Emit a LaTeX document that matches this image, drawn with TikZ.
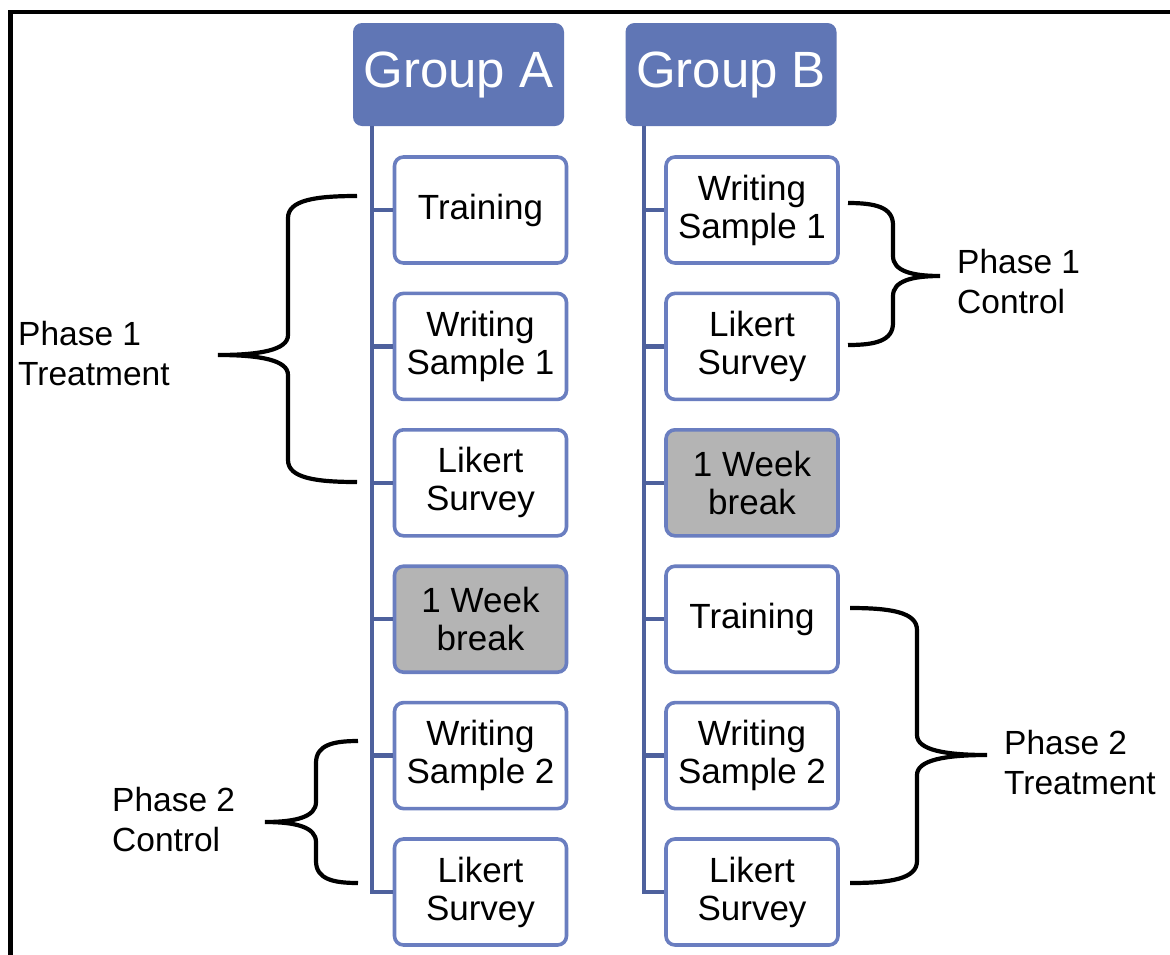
\documentclass[tikz,border=0pt]{standalone}
\usepackage{fontspec}
\setmainfont{Liberation Sans}
\definecolor{hdrblue}{RGB}{96,118,181}
\definecolor{boxblue}{RGB}{106,126,192}
\definecolor{spineblue}{RGB}{78,97,157}
\definecolor{breakgray}{RGB}{180,180,180}
% curly brace: tip x, stem x, point x, top y, point y, bottom y
\newcommand\drawbrace[6]{%
  \draw[bracket] (#1,#4)
    .. controls ({#1+0.6*(#2-#1)},#4) and (#2,{#4+4}) .. (#2,{#4+22})
    -- (#2,{#5-20})
    .. controls (#2,{#5-5}) and ({#2+0.4*(#3-#2)},#5) .. (#3,#5)
    .. controls ({#2+0.4*(#3-#2)},#5) and (#2,{#5+5}) .. (#2,{#5+20})
    -- (#2,{#6-22})
    .. controls (#2,{#6-4}) and ({#1+0.6*(#2-#1)},#6) .. (#1,#6);}
\begin{document}
\begin{tikzpicture}[x=1pt,y=-1pt,
  hdr/.style={fill=hdrblue, rounded corners=9pt, minimum width=211pt,
    minimum height=103pt, text=white, inner sep=0pt,
    font=\fontsize{51}{55}\selectfont},
  stepbox/.style={draw=boxblue, line width=3.6pt, fill=white, rounded corners=9pt,
    minimum width=172pt, minimum height=106pt, align=center, inner sep=0pt,
    font=\fontsize{35}{38}\selectfont},
  breakbox/.style={stepbox, fill=breakgray},
  spine/.style={draw=spineblue, line width=4.5pt},
  bracket/.style={draw=black, line width=4.2pt},
  phase/.style={align=left, anchor=west, inner sep=0pt,
    font=\fontsize{33.5}{40}\selectfont}
]
\useasboundingbox (0,0) rectangle (1170,954);
\fill[white] (0,0) rectangle (1170,954);
% frame along the top and left edges
\draw[line width=4.5pt] (10.3,970) -- (10.3,12) -- (1180,12);

% group headers
\node[hdr] (hA) at (458.5,74.5) {\raisebox{-2pt}{Group A}};
\node[hdr] (hB) at (731,74.5) {\raisebox{-2pt}{Group B}};

% Group A steps
\node[stepbox]  (a1) at (480.5,210)   {\raisebox{-2pt}{Training}};
\node[stepbox]  (a2) at (480.5,346.4) {Writing\\Sample 1};
\node[stepbox]  (a3) at (480.5,482.8) {Likert\\Survey};
\node[breakbox] (a4) at (480.5,619.2) {1 Week\\break};
\node[stepbox]  (a5) at (480.5,755.6) {Writing\\Sample 2};
\node[stepbox]  (a6) at (480.5,892)   {Likert\\Survey};

% Group B steps
\node[stepbox]  (b1) at (752,210)   {Writing\\Sample 1};
\node[stepbox]  (b2) at (752,346.4) {Likert\\Survey};
\node[breakbox] (b3) at (752,482.8) {1 Week\\break};
\node[stepbox]  (b4) at (752,619.2) {\raisebox{-2pt}{Training}};
\node[stepbox]  (b5) at (752,755.6) {Writing\\Sample 2};
\node[stepbox]  (b6) at (752,892)   {Likert\\Survey};

% spines and branches
\coordinate (spA) at (372,892);
\coordinate (spB) at (644,892);
\draw[spine] (hA.south -| spA) -- (spA) -- (a6.west);
\draw[spine] (hB.south -| spB) -- (spB) -- (b6.west);
\foreach \n in {a1,a2,a3,a4,a5} \draw[spine] (\n.west) -- (\n.west -| spA);
\foreach \n in {b1,b2,b3,b4,b5} \draw[spine] (\n.west) -- (\n.west -| spB);

% phase braces and labels
\drawbrace{357}{288}{218}{196}{355}{482}
\node[phase] (p1t) at (18,354) {Phase 1\\Treatment};

\drawbrace{358}{316}{265}{741}{822}{883}
\node[phase] (p2c) at (112,820) {Phase 2\\Control};

\drawbrace{848}{893}{940}{203}{276}{345}
\node[phase] (p1c) at (957,282) {Phase 1\\Control};

\drawbrace{850}{917}{987}{608}{755}{883}
\node[phase] (p2t) at (1004,763) {Phase 2\\Treatment};
\end{tikzpicture}
\end{document}
